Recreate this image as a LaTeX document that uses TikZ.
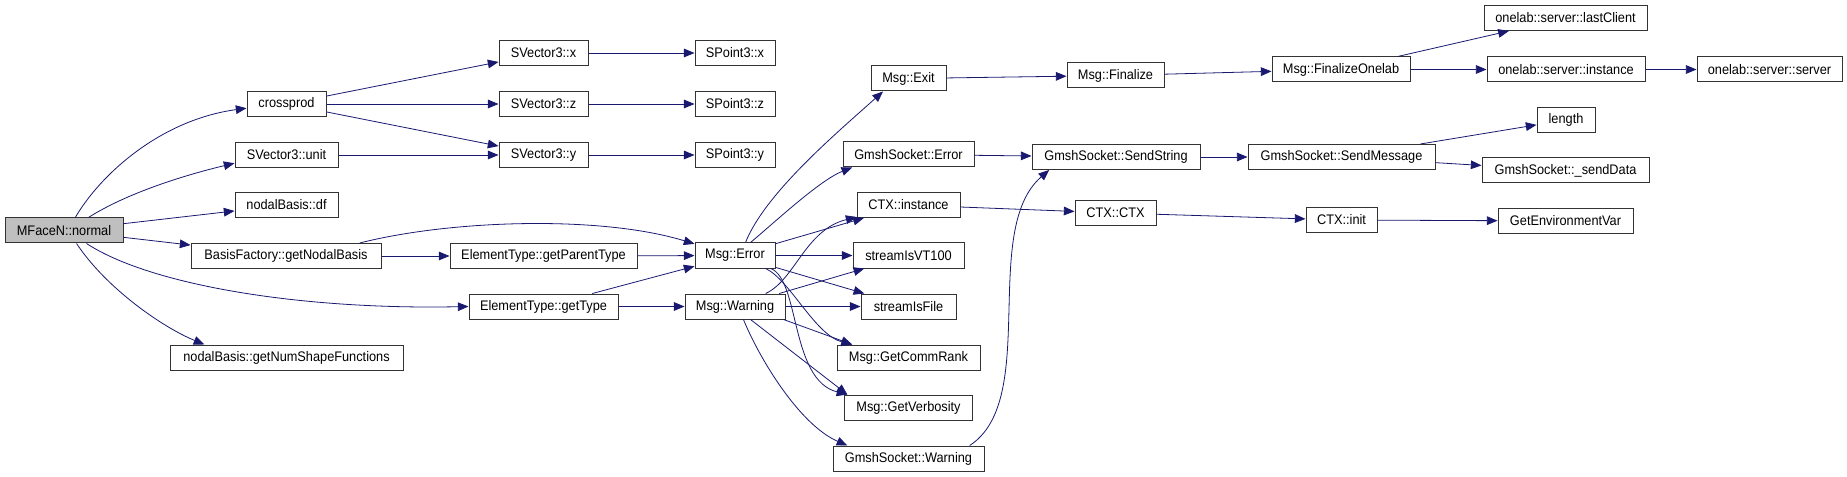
\documentclass[tikz,border=0pt]{standalone}
\usepackage{fontspec}
\setmainfont{Liberation Sans}[FakeStretch=0.92]
\usepackage{tikz}
\usetikzlibrary{arrows.meta,positioning}

\begin{document}
\begin{tikzpicture}[
    x=0.75pt, y=-0.75pt,
    fn/.style={rectangle, draw=black!80, line width=0.75pt, fill=white, inner sep=0pt,
        minimum height=18.75pt, font=\fontsize{10.4}{12}\selectfont},
    bw/.style={minimum width=#1*0.75pt},
    root/.style={fn, fill=black!25},
    call/.style={-{Triangle[length=8pt,width=6.5pt]}, draw={rgb,255:red,25;green,25;blue,112},
        line width=0.6pt}
]
    \useasboundingbox (0,0) rectangle (1847,477);

    % first column
    \node[root, bw=118] (normal) at (64,230.5) {MFaceN::normal};

    % direct callees
    \node[fn, bw=79] (crossprod) at (286.5,104) {crossprod};
    \node[fn, bw=103] (unit) at (286.5,155) {SVector3::unit};
    \node[fn, bw=103] (df) at (286.5,205) {nodalBasis::df};
    \node[fn, bw=190] (gnb) at (286,256) {BasisFactory::getNodalBasis};
    \node[fn, bw=233] (nsf) at (286.5,357.5) {nodalBasis::getNumShapeFunctions};

    \node[fn, bw=89] (sv3x) at (543.5,53) {SVector3::x};
    \node[fn, bw=89] (sv3z) at (543.5,104) {SVector3::z};
    \node[fn, bw=89] (sv3y) at (543.5,155) {SVector3::y};
    \node[fn, bw=187] (gpt) at (543.5,256) {ElementType::getParentType};
    \node[fn, bw=149] (gettype) at (543.5,306.5) {ElementType::getType};

    \node[fn, bw=80] (sp3x) at (735,53) {SPoint3::x};
    \node[fn, bw=80] (sp3z) at (735,104) {SPoint3::z};
    \node[fn, bw=80] (sp3y) at (735,155) {SPoint3::y};
    \node[fn, bw=80] (msgerror) at (735,255.5) {Msg::Error};
    \node[fn, bw=100] (msgwarning) at (735,306.5) {Msg::Warning};

    \node[fn, bw=75] (msgexit) at (908.5,78.5) {Msg::Exit};
    \node[fn, bw=131] (gserror) at (908.5,154.5) {GmshSocket::Error};
    \node[fn, bw=103] (ctxinstance) at (908.5,205) {CTX::instance};
    \node[fn, bw=111] (vt100) at (908.5,255.5) {streamIsVT100};
    \node[fn, bw=95] (isfile) at (908.5,306.5) {streamIsFile};
    \node[fn, bw=143] (commrank) at (908.5,357.5) {Msg::GetCommRank};
    \node[fn, bw=128] (verbosity) at (908.5,407.5) {Msg::GetVerbosity};
    \node[fn, bw=151] (gswarning) at (908.5,458.5) {GmshSocket::Warning};

    \node[fn, bw=97] (finalize) at (1115.5,75.5) {Msg::Finalize};
    \node[fn, bw=168] (sendstring) at (1116,157) {GmshSocket::SendString};
    \node[fn, bw=81] (ctxctx) at (1115.5,213) {CTX::CTX};

    \node[fn, bw=138] (finonelab) at (1341,69.5) {Msg::FinalizeOnelab};
    \node[fn, bw=187] (sendmsg) at (1341.5,157) {GmshSocket::SendMessage};
    \node[fn, bw=71] (ctxinit) at (1341.5,220) {CTX::init};

    \node[fn, bw=163] (lastclient) at (1565.5,18) {onelab::server::lastClient};
    \node[fn, bw=158] (srvinstance) at (1566,69.5) {onelab::server::instance};
    \node[fn, bw=58] (length) at (1566,120) {length};
    \node[fn, bw=167] (senddata) at (1565.5,170.5) {GmshSocket::\_sendData};
    \node[fn, bw=135] (getenv) at (1565.5,221) {GetEnvironmentVar};

    \node[fn, bw=145] (server) at (1769.5,69.5) {onelab::server::server};

    % calls from MFaceN::normal
    \draw[call] (normal.49) .. controls (100,175) and (160,120) .. (crossprod.186);
    \draw[call] (normal.28) .. controls (127,193) and (185,175) .. (unit.189);
    \draw[call] (normal) -- (df);
    \draw[call] (normal) -- (gnb);
    \draw[call] (normal.-30) .. controls (150,285) and (300,310) .. (gettype.west);
    \draw[call] (normal.-46) .. controls (106,288) and (162,327) .. (nsf.171);

    % vectors and points
    \draw[call] (crossprod) -- (sv3x);
    \draw[call] (crossprod) -- (sv3z);
    \draw[call] (crossprod) -- (sv3y);
    \draw[call] (unit) -- (sv3y);
    \draw[call] (sv3x) -- (sp3x);
    \draw[call] (sv3z) -- (sp3z);
    \draw[call] (sv3y) -- (sp3y);

    % element types
    \draw[call] (gnb) -- (gpt);
    \draw[call] (gnb.10.5) .. controls (450,220) and (600,215) .. (msgerror.164);
    \draw[call] (gpt) -- (msgerror);
    \draw[call] (gettype) -- (msgerror);
    \draw[call] (gettype) -- (msgwarning);

    % Msg::Error
    \draw[call] (msgerror.51) .. controls (765,193) and (839,131) .. (msgexit.207);
    \draw[call] (msgerror.40) .. controls (775,222) and (820,180) .. (gserror.193);
    \draw[call] (msgerror) -- (ctxinstance);
    \draw[call] (msgerror) -- (vt100);
    \draw[call] (msgerror) -- (isfile);
    \draw[call] (msgerror.-23) .. controls (790,280) and (815,335) .. (commrank.167);
    \draw[call] (msgerror.-20) .. controls (800,280) and (790,380) .. (verbosity.168);

    % Msg::Warning
    \draw[call] (msgwarning.23) .. controls (795,280) and (805,230) .. (ctxinstance.193);
    \draw[call] (msgwarning) -- (vt100);
    \draw[call] (msgwarning) -- (isfile);
    \draw[call] (msgwarning.-15) -- (commrank.167);
    \draw[call] (msgwarning.-40) -- (verbosity.168);
    \draw[call] (msgwarning.-57) .. controls (760,360) and (800,425) .. (gswarning.168);

    % right part
    \draw[call] (msgexit) -- (finalize);
    \draw[call] (finalize) -- (finonelab);
    \draw[call] (finonelab) -- (lastclient);
    \draw[call] (finonelab) -- (srvinstance);
    \draw[call] (srvinstance) -- (server);
    \draw[call] (gserror) -- (sendstring);
    \draw[call] (gswarning.12) .. controls (1040,400) and (980,230) .. (sendstring.191);
    \draw[call] (sendstring) -- (sendmsg);
    \draw[call] (sendmsg) -- (length);
    \draw[call] (sendmsg) -- (senddata);
    \draw[call] (ctxinstance) -- (ctxctx);
    \draw[call] (ctxctx) -- (ctxinit);
    \draw[call] (ctxinit) -- (getenv);
\end{tikzpicture}
\end{document}
